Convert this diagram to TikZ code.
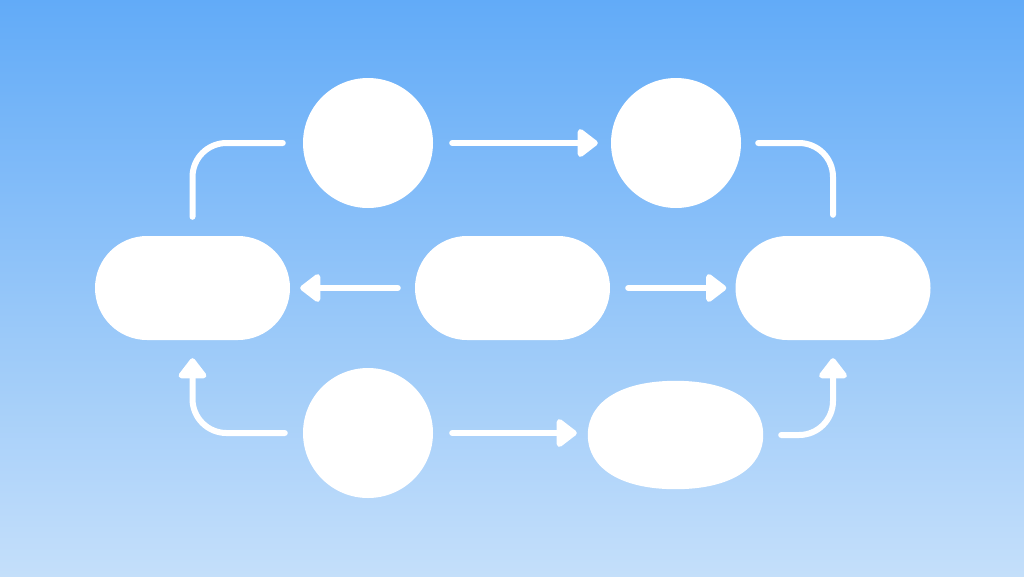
\documentclass[tikz,border=0pt]{standalone}
\usetikzlibrary{arrows.meta}
\definecolor{bgtop}{RGB}{98,171,248}
\definecolor{bgbot}{RGB}{196,223,250}
\tikzset{
  blob/.style={fill=white, draw=none, inner sep=0pt},
  roundnode/.style={blob, circle, minimum size=130pt},
  pill/.style={blob, rectangle, rounded corners=52pt, minimum width=195pt, minimum height=104pt},
  ovalframe/.style={draw=none, fill=none, inner sep=0pt, rectangle, minimum width=175pt, minimum height=108pt},
  conn/.style={draw=white, line width=6pt, line cap=round, line join=round, rounded corners=34pt},
  arr/.style={conn, -{Triangle[length=22pt,width=32pt,round]}}
}
\begin{document}
\begin{tikzpicture}[x=1pt,y=-1pt]
\shade[top color=bgtop, bottom color=bgbot] (0,0) rectangle (1024,576);
\useasboundingbox (0,0) rectangle (1024,576);
\node[roundnode] (c1) at (368,143) {};
\node[roundnode] (c2) at (676,143) {};
\node[roundnode] (c3) at (368,433) {};
\node[pill] (pl) at (192.5,288) {};
\node[pill] (pm) at (512.5,288) {};
\node[pill] (pr) at (833,288) {};
\node[ovalframe] (ov) at (675.5,435) {};
\fill[white] (ov.east) .. controls ([yshift=33pt]ov.east) and ([xshift=55pt]ov.north) .. (ov.north)
  .. controls ([xshift=-55pt]ov.north) and ([yshift=33pt]ov.west) .. (ov.west)
  .. controls ([yshift=-33pt]ov.west) and ([xshift=-55pt]ov.south) .. (ov.south)
  .. controls ([xshift=55pt]ov.south) and ([yshift=-33pt]ov.east) .. (ov.east) -- cycle;
\draw[conn, shorten <=19pt, shorten >=20pt] (pl.north) |- (c1.west);
\draw[arr, shorten <=19pt, shorten >=13pt] (c1.east) -- (c2.west);
\draw[conn, shorten <=17pt, shorten >=21pt] (c2.east) -| (pr.north);
\draw[arr, shorten <=17pt, shorten >=10pt] (pm.west) -- (pl.east);
\draw[arr, shorten <=18pt, shorten >=9pt] (pm.east) -- (pr.west);
\draw[arr, shorten <=18pt, shorten >=18pt] (c3.west) -| (pl.south);
\draw[arr, shorten <=19pt, shorten >=11pt] (c3.east) -- (c3.east -| ov.west);
\draw[arr, shorten <=18pt, shorten >=18pt] (ov.east) -| (pr.south);
\end{tikzpicture}
\end{document}
